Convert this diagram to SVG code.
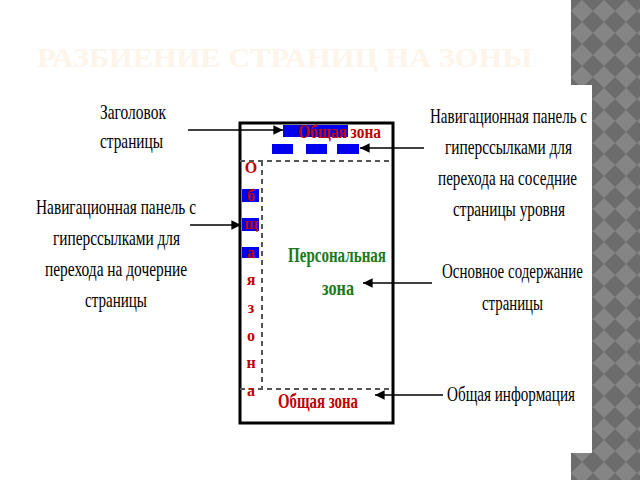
<svg xmlns="http://www.w3.org/2000/svg" width="640" height="480" viewBox="0 0 640 480">
<defs>
<pattern id="dia" patternUnits="userSpaceOnUse" width="22" height="22" x="571" y="0">
<rect width="22" height="22" fill="#6c6c6c"/>
<polygon points="11,0 22,11 11,22 0,11" fill="#858585"/>
</pattern>
<marker id="ah" viewBox="0 0 10 10" refX="10" refY="5" markerWidth="6" markerHeight="6" orient="auto" markerUnits="strokeWidth">
<path d="M0,0 L10,5 L0,10 z" fill="#000"/>
</marker>
<style>
.lbl{font-family:"Liberation Serif",serif;font-size:21px;fill:#000}
.red{font-family:"Liberation Serif",serif;font-weight:bold;fill:#c00000}
.grn{font-family:"Liberation Serif",serif;font-weight:bold;fill:#1a7a1a;font-size:21px}
.blu{fill:#0000ee}
.dash{stroke:#555;stroke-width:2;stroke-dasharray:5,4;fill:none}
.conn{stroke:#000;stroke-width:1.6;fill:none;marker-end:url(#ah)}
</style>
</defs>
<rect width="640" height="480" fill="#fff"/>
<polygon points="571,0 640,0 640,480 571,480 571,453 592,453 592,85 571,85" fill="url(#dia)"/>
<text x="37" y="67" font-family="Liberation Serif,serif" font-weight="bold" font-size="28" fill="#fdf4ea" textLength="495" lengthAdjust="spacingAndGlyphs">РАЗБИЕНИЕ СТРАНИЦ НА ЗОНЫ</text>

<g id="page">
<rect x="240" y="123" width="153" height="300" fill="#fff" stroke="#000" stroke-width="3"/>
<line class="dash" x1="240" y1="161" x2="393" y2="161"/>
<line class="dash" x1="262" y1="161" x2="262" y2="389"/>
<line class="dash" x1="240" y1="389" x2="393" y2="389"/>
</g>
<g id="top-zone">
<rect class="blu" x="283" y="125" width="65" height="12"/>
<rect class="blu" x="272" y="144" width="21" height="10"/>
<rect class="blu" x="306" y="144" width="21" height="10"/>
<rect class="blu" x="337" y="144" width="22" height="10"/>
<text class="red" x="298" y="138" font-size="18" textLength="83" lengthAdjust="spacingAndGlyphs">Общая зона</text>
</g>
<g id="side-zone">
<rect class="blu" x="242" y="189" width="17" height="13"/>
<rect class="blu" x="242" y="218" width="17" height="13"/>
<rect class="blu" x="242" y="247" width="17" height="11"/>
<g class="red" font-size="16" text-anchor="middle">
<text x="251" y="173">О</text>
<text x="251" y="201">б</text>
<text x="251" y="229">щ</text>
<text x="251" y="258">а</text>
<text x="251" y="285">я</text>
<text x="251" y="313">з</text>
<text x="251" y="341">о</text>
<text x="251" y="368">н</text>
<text x="251" y="396">а</text>
</g>
</g>
<g id="personal-zone">
<text class="grn" x="288" y="262" textLength="98" lengthAdjust="spacingAndGlyphs">Персональная</text>
<text class="grn" x="322" y="295" textLength="32" lengthAdjust="spacingAndGlyphs">зона</text>
</g>
<g id="bottom-zone">
<text class="red" x="278" y="408" font-size="21" textLength="80" lengthAdjust="spacingAndGlyphs">Общая зона</text>
</g>

<g id="label-title">
<text class="lbl" x="100" y="119" textLength="66" lengthAdjust="spacingAndGlyphs">Заголовок</text>
<text class="lbl" x="100" y="148" textLength="63" lengthAdjust="spacingAndGlyphs">страницы</text>
</g>
<g id="label-nav-left">
<text class="lbl" x="36" y="214" textLength="160" lengthAdjust="spacingAndGlyphs">Навигационная панель с</text>
<text class="lbl" x="53" y="245" textLength="127" lengthAdjust="spacingAndGlyphs">гиперссылками для</text>
<text class="lbl" x="45" y="276" textLength="142" lengthAdjust="spacingAndGlyphs">перехода на дочерние</text>
<text class="lbl" x="85" y="307" textLength="62" lengthAdjust="spacingAndGlyphs">страницы</text>
</g>
<g id="label-nav-right">
<text class="lbl" x="430" y="123" textLength="157" lengthAdjust="spacingAndGlyphs">Навигационная панель с</text>
<text class="lbl" x="445" y="154" textLength="127" lengthAdjust="spacingAndGlyphs">гиперссылками для</text>
<text class="lbl" x="438" y="185" textLength="139" lengthAdjust="spacingAndGlyphs">перехода на соседние</text>
<text class="lbl" x="453" y="216" textLength="112" lengthAdjust="spacingAndGlyphs">страницы уровня</text>
</g>
<g id="label-content">
<text class="lbl" x="442" y="278" textLength="141" lengthAdjust="spacingAndGlyphs">Основное содержание</text>
<text class="lbl" x="482" y="310" textLength="61" lengthAdjust="spacingAndGlyphs">страницы</text>
</g>
<g id="label-info">
<text class="lbl" x="447" y="401" textLength="128" lengthAdjust="spacingAndGlyphs">Общая информация</text>
</g>

<g id="connectors">
<line class="conn" x1="188" y1="130" x2="283" y2="130"/>
<line class="conn" x1="190" y1="225" x2="241" y2="225"/>
<line class="conn" x1="424" y1="148" x2="360" y2="148"/>
<line class="conn" x1="432" y1="283" x2="363" y2="283"/>
<line class="conn" x1="443" y1="395" x2="375" y2="395"/>
</g>
</svg>
